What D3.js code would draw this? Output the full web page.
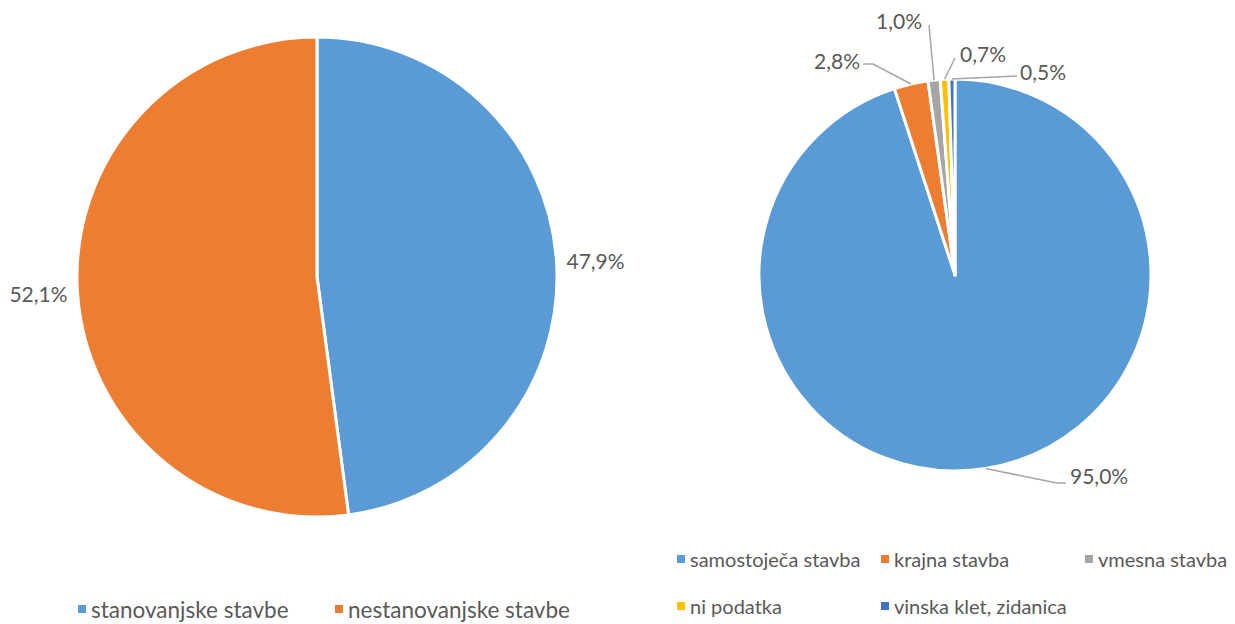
<!DOCTYPE html>
<html>
<head>
<meta charset="utf-8">
<script src="https://cdn.jsdelivr.net/npm/d3@7"></script>
<style>
  html, body { margin: 0; padding: 0; background: #fff; }
  svg text { font-family: Lato, "Open Sans", sans-serif; fill: #595959; }
</style>
</head>
<body>
<svg id="chart" width="1235" height="624"></svg>
<script>
// Building type shares (percent)
const leftCategories = ["stanovanjske stavbe", "nestanovanjske stavbe"];
const leftValues = [47.9, 52.1];
const leftColors = ["#5B9BD5", "#ED7D31"];

const rightCategories = ["samostoječa stavba", "krajna stavba", "vmesna stavba", "ni podatka", "vinska klet, zidanica"];
const rightValues = [95.0, 2.8, 1.0, 0.7, 0.5];
const rightColors = ["#5B9BD5", "#ED7D31", "#A5A5A5", "#FFC000", "#4472C4"];

// Label placement for the small right-hand slices (offsets from pie centre)
const rightLabelLayout = [
  { text: [115, 200], anchor: "start", path: [[102, 208], [111, 208]] },
  { text: [-95, -215], anchor: "end", path: [[-82, -211], [-92, -211]] },
  { text: [-33, -255], anchor: "end", path: [[-26, -250]] },
  { text: [5, -222], anchor: "start", path: [[0, -217]] },
  { text: [65, -204], anchor: "start", path: [[62, -199]] }
];

const fmt = v => d3.format(".1f")(v).replace(".", ",") + "%";

const svg = d3.select("#chart");

function drawPie(cx, cy, r, values, colors) {
  const pie = d3.pie().sort(null).value(d => d)(values);
  const arc = d3.arc().innerRadius(0).outerRadius(r);
  const g = svg.append("g").attr("transform", `translate(${cx},${cy})`);
  g.selectAll("path.slice")
    .data(pie)
    .join("path")
    .attr("class", "slice")
    .attr("d", arc)
    .attr("fill", (d, i) => colors[i])
    .attr("stroke", "#fff")
    .attr("stroke-width", 3)
    .attr("stroke-linejoin", "round");
  return { g, pie, arc };
}

// Left pie: residential vs non-residential
const L = drawPie(317, 277, 240, leftValues, leftColors);
L.g.selectAll("text.lbl")
  .data(L.pie)
  .join("text")
  .attr("class", "lbl")
  .each(function (d) {
    const a = (d.startAngle + d.endAngle) / 2;
    const rr = 250;
    d3.select(this)
      .attr("x", rr * Math.sin(a))
      .attr("y", -rr * Math.cos(a))
      .attr("text-anchor", Math.sin(a) >= 0 ? "start" : "end");
  })
  .attr("dominant-baseline", "central")
  .attr("font-size", 21)
  .text(d => fmt(d.data));

// Right pie: residential building types
const R = drawPie(955, 275, 196, rightValues, rightColors);
const leader = d3.line();
R.g.selectAll("path.leader")
  .data(R.pie)
  .join("path")
  .attr("class", "leader")
  .attr("d", (d, i) => {
    const a = (d.startAngle + d.endAngle) / 2;
    const start = [196 * Math.sin(a), -196 * Math.cos(a)];
    return leader([start, ...rightLabelLayout[i].path]);
  })
  .attr("fill", "none")
  .attr("stroke", "#A6A6A6")
  .attr("stroke-width", 1.5);
R.g.selectAll("text.lbl")
  .data(R.pie)
  .join("text")
  .attr("class", "lbl")
  .attr("x", (d, i) => rightLabelLayout[i].text[0])
  .attr("y", (d, i) => rightLabelLayout[i].text[1])
  .attr("text-anchor", (d, i) => rightLabelLayout[i].anchor)
  .attr("dominant-baseline", "central")
  .attr("font-size", 21)
  .text(d => fmt(d.data));

// Legends
function legend(items, colors, positions, fontSize) {
  const g = svg.append("g");
  const it = g.selectAll("g.item")
    .data(items)
    .join("g")
    .attr("class", "item")
    .attr("transform", (d, i) => `translate(${positions[i][0]},${positions[i][1]})`);
  it.append("rect")
    .attr("x", 0).attr("y", -4)
    .attr("width", 8).attr("height", 8)
    .attr("fill", (d, i) => colors[i]);
  it.append("text")
    .attr("x", 13)
    .attr("y", 0)
    .attr("dominant-baseline", "central")
    .attr("font-size", fontSize)
    .text(d => d);
}

legend(leftCategories, leftColors, [[78, 609], [335, 609]], 22.5);
legend(rightCategories, rightColors,
  [[677, 559], [881, 559], [1085, 559], [677, 606], [881, 606]], 20);
</script>
</body>
</html>
